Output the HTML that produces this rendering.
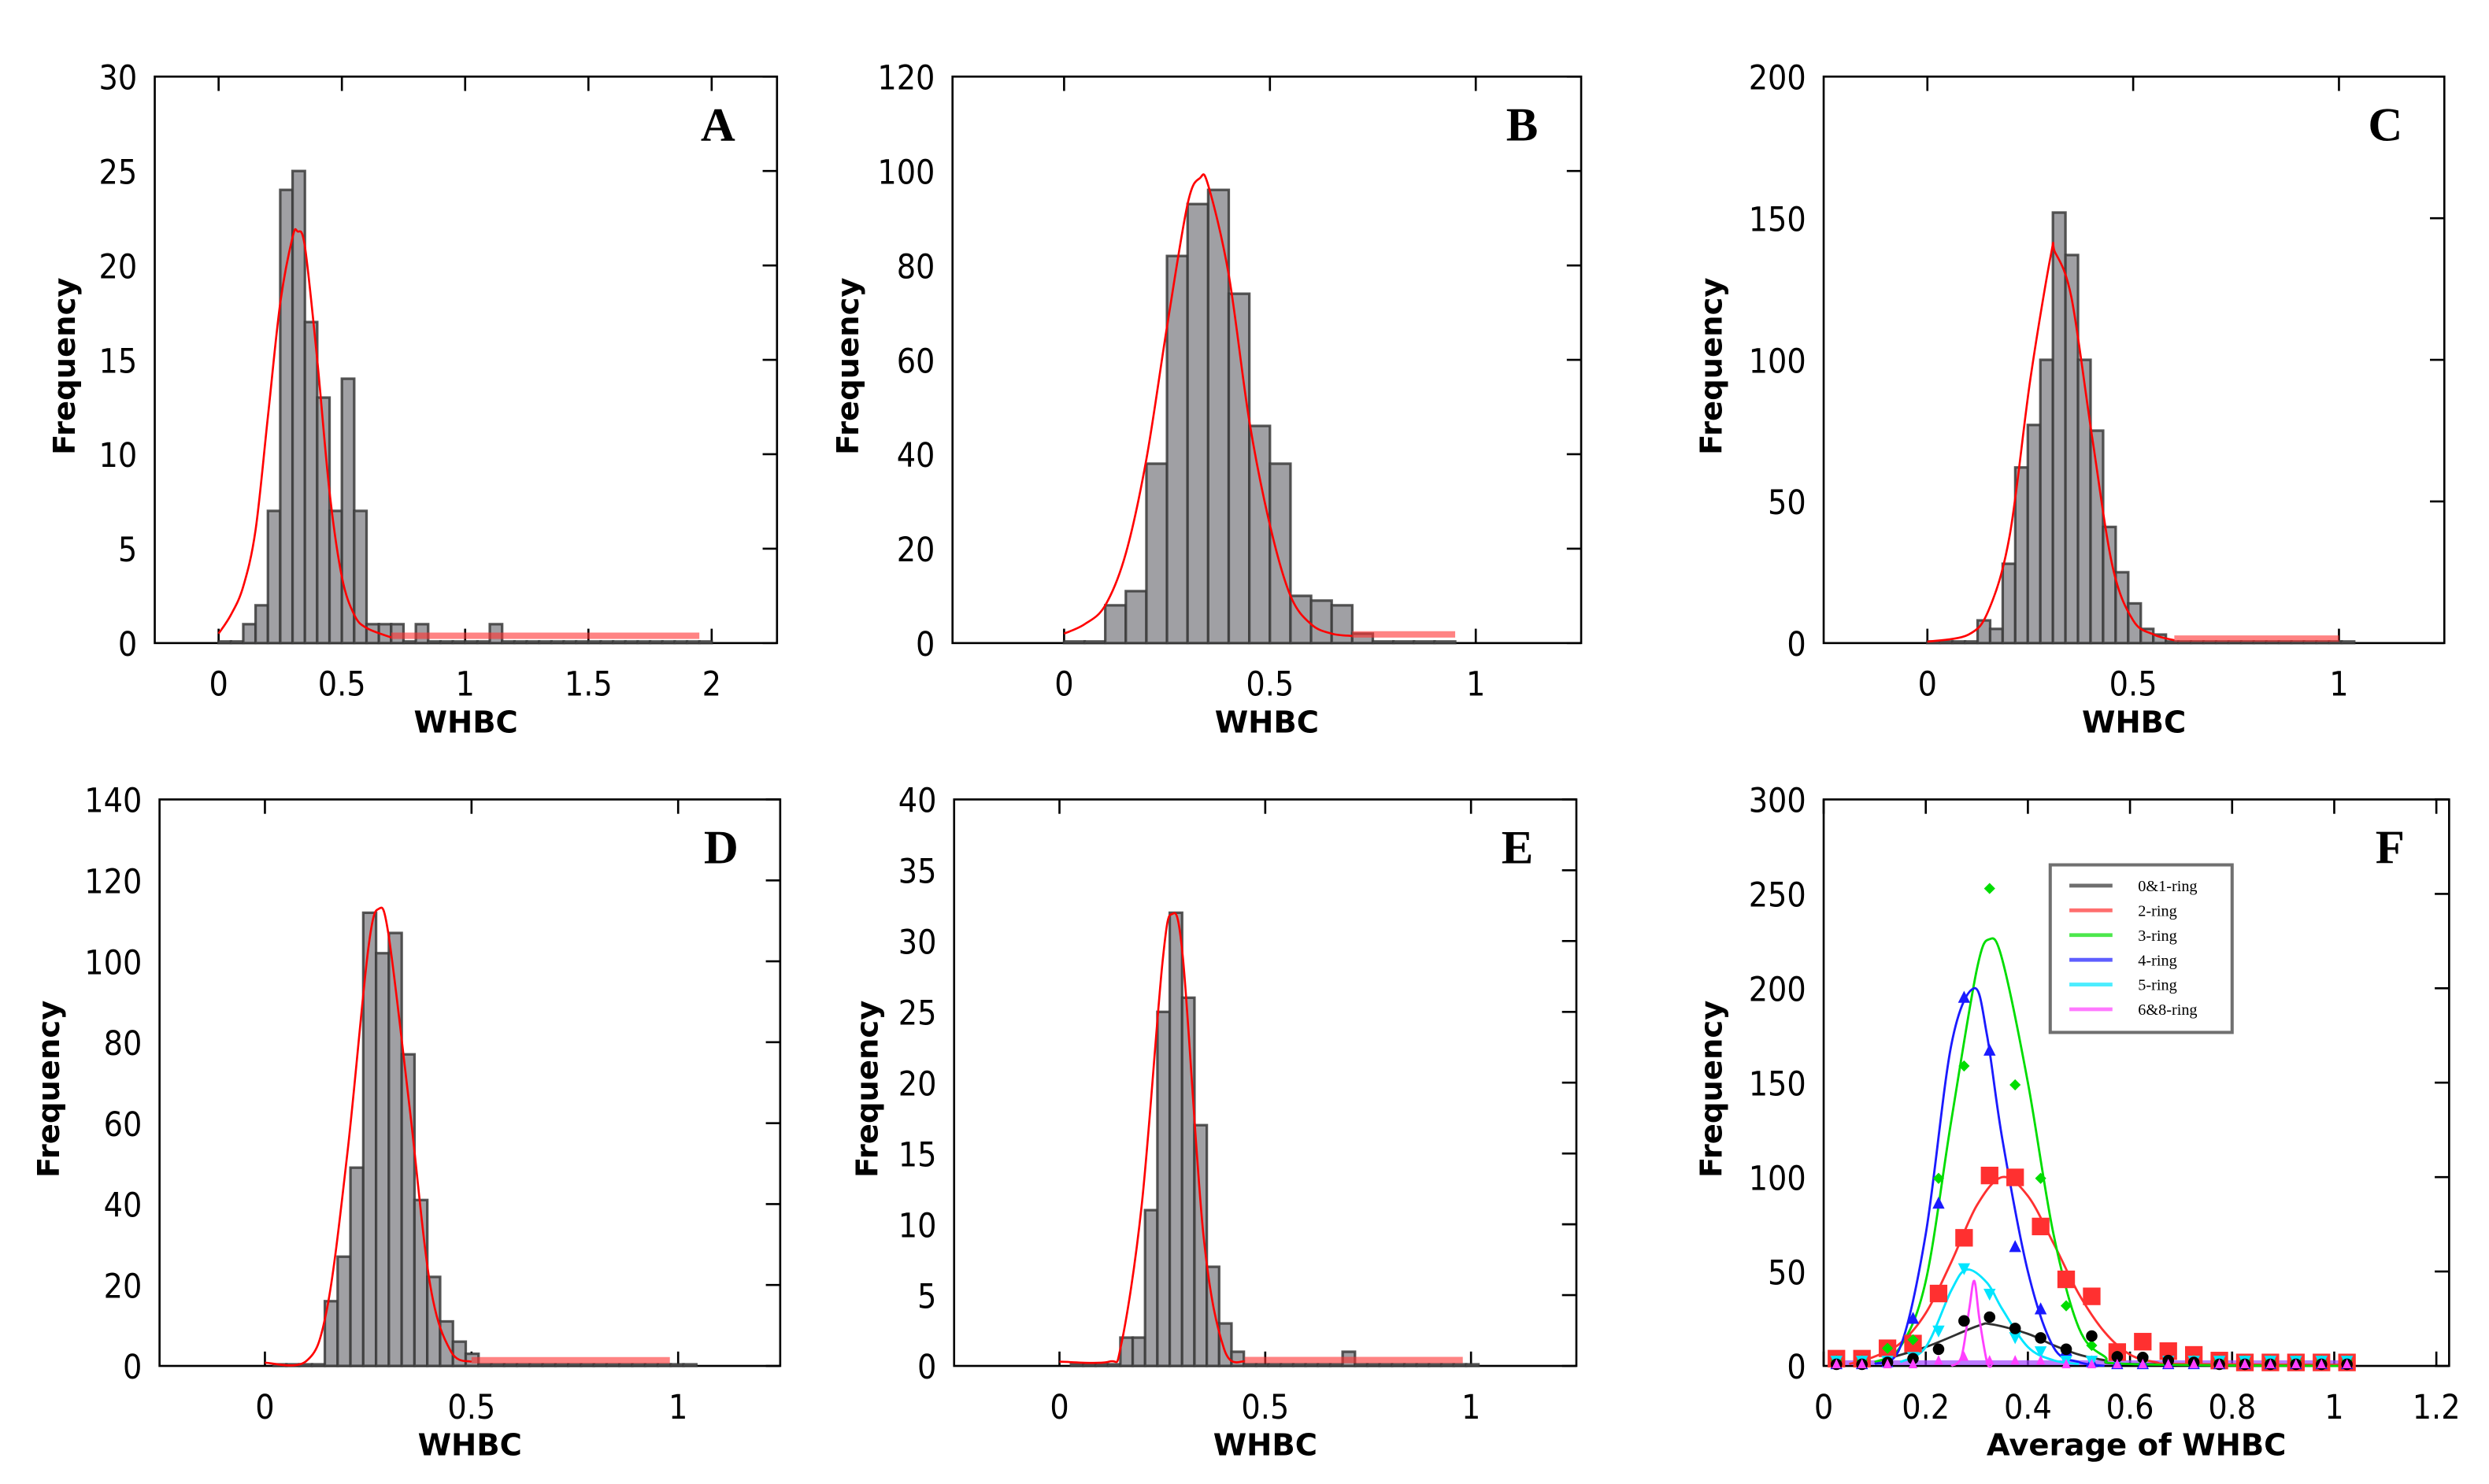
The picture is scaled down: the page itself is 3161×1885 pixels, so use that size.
<!DOCTYPE html>
<html><head><meta charset="utf-8"><title>WHBC frequency histograms</title>
<style>
html,body{margin:0;padding:0;background:#fff;}
svg{display:block;}
.tick{font-family:"DejaVu Sans Condensed","Liberation Sans Narrow","Liberation Sans",sans-serif;font-size:21px;fill:#000;}
.ttl{font-family:"DejaVu Sans","Liberation Sans",sans-serif;font-weight:bold;font-size:19px;fill:#000;}
.let{font-family:"Liberation Serif",serif;font-weight:bold;font-size:30px;fill:#000;}
.leg{font-family:"Liberation Serif",serif;font-size:10px;fill:#000;}
</style></head>
<body>
<svg id="fig" width="3161" height="1885" viewBox="0 0 1560 930" preserveAspectRatio="none" xmlns="http://www.w3.org/2000/svg"></svg>
<script>
// ---------- Data ----------
const aCounts=[0,0,1,2,7,24,25,17,13,7,14,7,1,1,1,0,1,0,0,0,0,0,1,0,0,0,0,0,0,0,0,0,0,0,0,0,0,0,0,0];
const aCurveX=[0,0.05,0.1,0.15,0.2,0.25,0.3,0.32,0.35,0.4,0.45,0.5,0.55,0.6,0.7];
const aCurveY=[0.5,1.5,3,6,12,18,21.5,21.8,21,15,8,3.5,1.5,0.8,0.3];
const bCounts=[0,0,8,11,38,82,93,96,74,46,38,10,9,8,2,0,0,0,0];
const bCurveX=[0,0.05,0.1,0.15,0.2,0.25,0.3,0.33,0.35,0.4,0.45,0.5,0.55,0.6,0.65,0.7];
const bCurveY=[2,4,8,19,39,67,93,98.5,97,78,47,25,10,4,2,1.5];
const cCounts=[0,0,0,0,8,5,28,62,77,100,152,137,100,75,41,25,14,5,3,0,0,0,0,0,0,0,0,0,0,0,0,0,0,0];
const cCurveX=[0,0.1,0.15,0.2,0.25,0.3,0.31,0.35,0.4,0.45,0.5,0.55,0.6];
const cCurveY=[0.5,3,12,38,93,137,138,122,73,27,8,3,1];
const dCounts=[0,0,0,0,16,27,49,112,102,107,77,41,22,11,6,3,0,0,0,0,0,0,0,0,0,0,0,0,0,0,0,0,0];
const dCurveX=[0,0.1,0.15,0.2,0.25,0.276,0.3,0.35,0.4,0.45,0.5];
const dCurveY=[0.8,1.2,14,53,103,113,106,64,20,3.6,1];
const eCounts=[0,0,0,0,2,2,11,25,32,26,17,7,3,1,0,0,0,0,0,0,0,0,1,0,0,0,0,0,0,0,0,0,0];
const eCurveX=[0,0.12,0.15,0.2,0.25,0.273,0.3,0.35,0.4,0.45];
const eCurveY=[0.3,0.3,1.5,11.4,28.4,31.9,28.8,9.2,1.2,0.3];
// Panel F
const fX=[0.025,0.075,0.125,0.175,0.225,0.275,0.325,0.375,0.425,0.475,0.525,0.575,0.625,0.675,0.725,0.775,0.825,0.875,0.925,0.975,1.025];
const fRing01=[0,0,1,3,8,23,25,19,14,8,15,4,3.6,2,1,0,0,0,0,0,0];
const fRing2=[3,3,8.5,11,37.5,67,100,99,73,45,36,6.5,12,7,5,2,1,1,1,1,1];
const fRing3=[2,2,8.5,13,98.5,158,252,148,98.5,31,10,4.4,2,2,2,2,2,2,2,2,2];
const fRing4=[0,0,1,24,85,194,166,62,29,7,1,0,0,0,0,0,0,0,0,0,0];
const fRing5=[2,2,2,4,18,51,37.5,14.5,7,2,2,2,2,2,2,2,2,2,2,2,2];
const fRing68=[0,0,0,0,2,4,2,2,2,0,0,0,0,0,0,0,0,0,0,0,0];
const fFit01X=[0.1,0.2,0.3,0.33,0.4,0.45,0.5,0.55,0.6,1.025], fFit01Y=[2,10,21,22,17,11,6,3,1,0.5];
const fFit2X=[0.05,0.1,0.15,0.2,0.25,0.3,0.35,0.4,0.45,0.5,0.55,0.6,0.65,0.7,1.025], fFit2Y=[1,5,12,28,55,85,100,90,65,38,18,6,2,1,0.5];
const fFit3X=[0.1,0.15,0.2,0.25,0.3,0.325,0.35,0.4,0.45,0.5,0.55,0.6,1.025], fFit3Y=[2,10,45,130,210,226,215,150,70,20,5,1,0];
const fFit4X=[0.1,0.15,0.2,0.25,0.295,0.32,0.35,0.4,0.45,0.5,0.55], fFit4Y=[1,10,70,170,200,175,120,50,10,2,0];
const fFit5X=[0.15,0.2,0.25,0.28,0.32,0.35,0.4,0.45,0.5], fFit5Y=[2,10,40,51,44,30,10,3,1];
const fFit68X=[0.25,0.27,0.285,0.295,0.305,0.32,0.33], fFit68Y=[0,5,30,45,25,2,0];
const legendLabels=["0&1-ring","2-ring","3-ring","4-ring","5-ring","6&8-ring"];

// ---------- Rendering ----------
const NS="http://www.w3.org/2000/svg";
const svg=document.getElementById('fig');
function mk(tag,attrs,parent){const e=document.createElementNS(NS,tag);for(const k in attrs)e.setAttribute(k,attrs[k]);(parent||svg).appendChild(e);return e;}
function smoothPath(pts){
  let d='M'+pts[0][0]+','+pts[0][1];
  for(let i=0;i<pts.length-1;i++){
    const p0=pts[Math.max(0,i-1)],p1=pts[i],p2=pts[i+1],p3=pts[Math.min(pts.length-1,i+2)];
    const c1x=p1[0]+(p2[0]-p0[0])/6,c1y=p1[1]+(p2[1]-p0[1])/6;
    const c2x=p2[0]-(p3[0]-p1[0])/6,c2y=p2[1]-(p3[1]-p1[1])/6;
    d+=` C${c1x},${c1y} ${c2x},${c2y} ${p2[0]},${p2[1]}`;
  }
  return d;
}

function axes(p){
  const g=mk('g',{});
  
  
  p.sx=v=>p.L+(v-p.xmin)/(p.xmax-p.xmin)*(p.R-p.L);
  p.sy=v=>p.B-v/p.ymax*(p.B-p.T);
  const fr=mk('rect',{x:p.L,y:p.T,width:p.R-p.L,height:p.B-p.T,fill:'none',stroke:'#000','stroke-width':1.3},g);
  
  
  p.xticks.forEach((t,i)=>{
    const x=p.sx(t);
    const t1=mk('line',{x1:x,x2:x,y1:p.T,y2:p.T+9,stroke:'#000','stroke-width':1.3},g);
    
    
    const t2=mk('line',{x1:x,x2:x,y1:p.B,y2:p.B-9,stroke:'#000','stroke-width':1.3},g);
    
    
    const tx=mk('text',{x:x,y:p.B+33,'text-anchor':'middle',class:'tick'},g);
    tx.textContent=p.xlabels[i];
    
    
  });
  p.yticks.forEach((t,i)=>{
    const y=p.sy(t);
    const tk=mk('line',{x1:p.R,x2:p.R-9,y1:y,y2:y,stroke:'#000','stroke-width':1.3},g);
    
    
    const ty=mk('text',{x:p.L-11,y:y+8,'text-anchor':'end',class:'tick'},g);
    ty.textContent=p.ylabels[i];
    
    
  });
  const xt=mk('text',{x:(p.L+p.R)/2,y:p.B+56,'text-anchor':'middle',class:'ttl'},g);
  xt.textContent=p.xTitle;
  
  
  const yt=mk('text',{x:0,y:0,'text-anchor':'middle',class:'ttl',transform:`translate(${p.yTitleX},${(p.T+p.B)/2+4}) rotate(-90)`},g);
  yt.textContent='Frequency';
  
  
  const lt=mk('text',{x:p.R-37,y:p.T+40,'text-anchor':'middle',class:'let'},g);
  lt.textContent=p.letter;
  
  
  p.g=g;
  return p;
}

function hist(p,counts,start,width,cx,cy,tailEnd){
  counts.forEach((c,i)=>{
    const x0=p.sx(start+i*width), x1=p.sx(start+(i+1)*width);
    const y=p.sy(c);
    const r=mk('rect',{x:x0,y:c>0?y:p.B-1,width:x1-x0,height:c>0?p.B-y:1,fill:'#a0a0a4',stroke:'#3a3a3a','stroke-width':1.6,'stroke-opacity':0.85},p.g);
    
    
  });
  const last=cx.length-1;
  const tl=mk('line',{x1:p.sx(cx[last]),x2:p.sx(tailEnd),y1:p.sy(cy[last])-1,y2:p.sy(cy[last])-1,stroke:'#ff3030','stroke-width':4,'stroke-opacity':0.6},p.g);
  
  
  const pts=cx.map((x,i)=>[p.sx(x),p.sy(cy[i])]);
  const pl=mk('path',{d:smoothPath(pts),fill:'none',stroke:'#ff0000','stroke-width':1.3,'stroke-linejoin':'round'},p.g);
  
  
}

const pA=axes({letter:'A',L:97,R:487,T:48,B:403,xmin:-0.259,xmax:2.265,ymax:30,xticks:[0,0.5,1,1.5,2],xlabels:['0','0.5','1','1.5','2'],yticks:[0,5,10,15,20,25,30],ylabels:['0','5','10','15','20','25','30'],xTitle:'WHBC',yTitleX:47});
hist(pA,aCounts,0,0.05,aCurveX,aCurveY,1.95);
const pB=axes({letter:'B',L:597,R:991,T:48,B:403,xmin:-0.271,xmax:1.256,ymax:120,xticks:[0,0.5,1],xlabels:['0','0.5','1'],yticks:[0,20,40,60,80,100,120],ylabels:['0','20','40','60','80','100','120'],xTitle:'WHBC',yTitleX:538});
hist(pB,bCounts,0,0.05,bCurveX,bCurveY,0.95);
const pC=axes({letter:'C',L:1143,R:1532,T:48,B:403,xmin:-0.252,xmax:1.256,ymax:200,xticks:[0,0.5,1],xlabels:['0','0.5','1'],yticks:[0,50,100,150,200],ylabels:['0','50','100','150','200'],xTitle:'WHBC',yTitleX:1079});
hist(pC,cCounts,0,0.0305,cCurveX,cCurveY,1.0);
const pD=axes({letter:'D',L:100,R:489,T:501,B:856,xmin:-0.255,xmax:1.247,ymax:140,xticks:[0,0.5,1],xlabels:['0','0.5','1'],yticks:[0,20,40,60,80,100,120,140],ylabels:['0','20','40','60','80','100','120','140'],xTitle:'WHBC',yTitleX:37});
hist(pD,dCounts,0.021,0.031,dCurveX,dCurveY,0.98);
const pE=axes({letter:'E',L:598,R:988,T:501,B:856,xmin:-0.256,xmax:1.256,ymax:40,xticks:[0,0.5,1],xlabels:['0','0.5','1'],yticks:[0,5,10,15,20,25,30,35,40],ylabels:['0','5','10','15','20','25','30','35','40'],xTitle:'WHBC',yTitleX:550});
hist(pE,eCounts,0.028,0.03,eCurveX,eCurveY,0.98);

// Panel F
const pF=axes({letter:'F',L:1143,R:1535,T:501,B:856,xmin:0,xmax:1.225,ymax:300,xticks:[0,0.2,0.4,0.6,0.8,1,1.2],xlabels:['0','0.2','0.4','0.6','0.8','1','1.2'],yticks:[0,50,100,150,200,250,300],ylabels:['0','50','100','150','200','250','300'],xTitle:'Average of WHBC',yTitleX:1079});
const colors=['#303030','#ff3030','#00dd00','#1a1aff','#00e5ff','#ff40ff'];
const curveNames=['fit-0-1-ring','fit-2-ring','fit-3-ring','fit-4-ring','fit-5-ring','fit-6-8-ring'];
const fitsX=[fFit01X,fFit2X,fFit3X,fFit4X,fFit5X,fFit68X];
const fitsY=[fFit01Y,fFit2Y,fFit3Y,fFit4Y,fFit5Y,fFit68Y];
const band=mk('line',{x1:pF.sx(0.02),x2:pF.sx(1.03),y1:pF.B-2,y2:pF.B-2,stroke:'#a040ff','stroke-width':3,'stroke-opacity':0.7},pF.g);


fitsX.forEach((xs,k)=>{
  const pts=xs.map((x,i)=>[pF.sx(x),pF.sy(fitsY[k][i])]);
  const pl=mk('path',{d:smoothPath(pts),fill:'none',stroke:colors[k],'stroke-width':1.4,'stroke-linejoin':'round'},pF.g);
  
  
});
function marker(kind,x,y,color){
  let e;
  if(kind==='circle'){e=mk('circle',{cx:x,cy:y,r:3.6,fill:color},pF.g);}
  else if(kind==='square'){e=mk('rect',{x:x-5.5,y:y-5.5,width:11,height:11,fill:color},pF.g);}
  else if(kind==='diamond'){e=mk('polygon',{points:`${x},${y-3.5} ${x+3.5},${y} ${x},${y+3.5} ${x-3.5},${y}`,fill:color},pF.g);}
  else if(kind==='up'){e=mk('polygon',{points:`${x},${y-4.5} ${x+3.8},${y+3} ${x-3.8},${y+3}`,fill:color},pF.g);}
  else if(kind==='down'){e=mk('polygon',{points:`${x},${y+4.5} ${x+3.8},${y-3} ${x-3.8},${y-3}`,fill:color},pF.g);}
  else {e=mk('polygon',{points:`${x},${y-3.5} ${x+2.8},${y+2.5} ${x-2.8},${y+2.5}`,fill:color},pF.g);}
  return e;
}
const series=[[fRing2,'square',colors[1],'point-2-ring'],[fRing3,'diamond',colors[2],'point-3-ring'],[fRing4,'up',colors[3],'point-4-ring'],[fRing5,'down',colors[4],'point-5-ring'],[fRing01,'circle','#000','point-0-1-ring'],[fRing68,'tri','#ff40ff','point-6-8-ring']];
series.forEach(s=>{
  s[0].forEach((v,i)=>{
    const m=marker(s[1],pF.sx(fX[i]),pF.sy(v)-1,s[2]);
    
    
  });
});
const lg=mk('g',{},pF.g);


const lb=mk('rect',{x:1285,y:542,width:114,height:105,fill:'#fff',stroke:'#707070','stroke-width':2},lg);


legendLabels.forEach((t,i)=>{
  const y=555+i*15.5;
  const ln=mk('line',{x1:1297,x2:1324,y1:y,y2:y,stroke:colors[i],'stroke-width':2.4,'stroke-opacity':0.7},lg);
  
  
  const tx=mk('text',{x:1340,y:y+3.5,class:'leg'},lg);
  tx.textContent=t;
  
  
});
</script>
</body></html>
